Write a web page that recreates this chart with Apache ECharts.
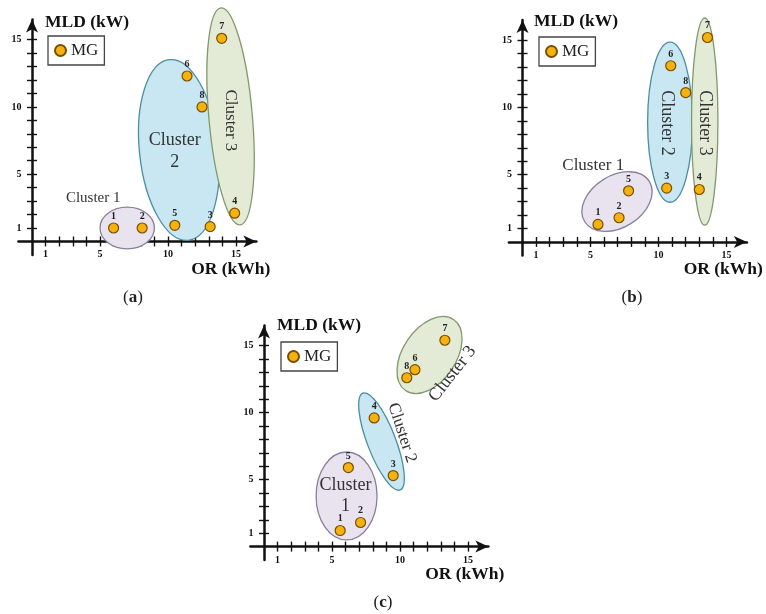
<!DOCTYPE html>
<html><head><meta charset="utf-8">
<script src="https://cdn.jsdelivr.net/npm/echarts@6/dist/echarts.min.js"></script>
<style>html,body{margin:0;padding:0;background:#fff}#c{width:766px;height:614px}</style>
</head><body><div id="c"></div>
<script>
// ---------- data ----------
const ptNames = ['1','2','3','4','5','6','7','8'];
// panel (a)
const aX = [6.0, 8.1, 13.1, 14.9, 10.5, 11.4, 13.95, 12.5];
const aY = [1.0, 1.0, 1.1, 2.1, 1.2, 12.3, 15.1, 10.0];
// panel (b)
const bX = [5.55, 7.1, 10.6, 13.0, 7.8, 10.9, 13.6, 12.0];
const bY = [1.3, 1.8, 4.0, 3.9, 3.8, 13.1, 15.2, 11.1];
// panel (c)
const cX = [5.6, 7.1, 9.5, 8.1, 6.2, 11.1, 13.3, 10.5];
const cY = [1.2, 1.8, 5.3, 9.6, 5.9, 13.2, 15.4, 12.6];

// cluster ellipses: [centerX, centerY, semiAxisX, semiAxisY, rotationDeg]
const ellA = [[7.0, 1.0, 2.0, 1.55, 0], [10.8, 6.8, 2.9, 6.75, 6], [14.6, 9.3, 1.6, 8.1, 5]];
const ellB = [[6.95, 3.0, 2.8, 1.93, 32], [10.85, 8.9, 1.65, 5.95, 0], [13.4, 8.95, 0.97, 7.7, 0]];
const ellC = [[6.07, 3.78, 2.24, 3.28, 0], [8.64, 7.84, 1.04, 3.87, 21], [12.17, 14.3, 1.95, 3.2, -34]];

// cluster labels: text, [x, y, rotationDeg]
const labA = ['Cluster 1', 'Cluster\n2', 'Cluster 3'];
const labPosA = [[4.5, 3.2, 0], [10.5, 6.7, 0], [14.56, 9.0, -90]];
const labB = ['Cluster 1', 'Cluster 2', 'Cluster 3'];
const labPosB = [[5.2, 5.65, 0], [10.6, 8.85, -90], [13.4, 8.85, -90]];
const labC = ['Cluster\n1', 'Cluster 2', 'Cluster 3'];
const labPosC = [[6.0, 3.8, 0], [10.15, 8.5, -72], [13.86, 12.9, 52]];

const tickVals = [1,2,3,4,5,6,7,8,9,10,11,12,13,14,15];
const tickLabels = [1, 5, 10, 15];
const xName = 'OR (kWh)';
const yName = 'MLD (kW)';
const seriesName = 'MG';
const captions = ['a', 'b', 'c'];

// ---------- styles ----------
const SERIF = '"Liberation Serif", "DejaVu Serif", serif';
const clusterStyle = [
  {fill: '#e9e3f0', stroke: '#8a7f9a'},
  {fill: '#c8e7f3', stroke: '#4a8ea2'},
  {fill: '#e3ebd6', stroke: '#80996c'}
];
const labSizeA = [15, 18, 17], labSizeB = [17, 18, 18], labSizeC = [18, 17, 18];

const grids = [
  {left: 18.4, top: 19.5, width: 238, height: 235.4, outerBoundsMode: 'none', containLabel: false},
  {left: 508.9, top: 20, width: 238, height: 235.4, outerBoundsMode: 'none', containLabel: false},
  {left: 250.4, top: 325.5, width: 238, height: 234.5, outerBoundsMode: 'none', containLabel: false}
];
const namePad = [13, 11.5, 13];
const yNameGap = [-2.5, -1, 0];
const xNameGap = [14, 16, 16];

const xAxes = [], yAxes = [];
grids.forEach((g, gi) => {
  const mainIdx = 2 * gi;
  const common = {gridIndex: gi, type: 'value', min: -1, max: 16.5, splitLine: {show: false}};
  const tickStyle = {color: '#111', width: 1.4};
  xAxes.push(Object.assign({}, common, {
    position: 'bottom',
    axisLine: {onZero: true, onZeroAxisIndex: mainIdx, symbol: ['none', 'arrow'], symbolSize: [9, 13], lineStyle: {color: '#111', width: 2.5}},
    axisTick: {customValues: tickVals, length: 5, lineStyle: tickStyle},
    axisLabel: {customValues: tickLabels, margin: -5, fontFamily: SERIF, fontWeight: 'bold', fontSize: 10, color: '#111'},
    name: xName, nameLocation: 'end', nameGap: xNameGap[gi], nameMoveOverlap: false,
    nameTextStyle: {fontFamily: SERIF, fontWeight: 'bold', fontSize: 17.5, color: '#111', align: 'right', verticalAlign: 'top', padding: [19, 0, 0, 0]}
  }));
  xAxes.push(Object.assign({}, common, {
    position: 'bottom',
    axisLine: {show: false, onZero: true, onZeroAxisIndex: mainIdx},
    axisTick: {customValues: tickVals, inside: true, length: 5, lineStyle: tickStyle},
    axisLabel: {show: false}
  }));
  yAxes.push(Object.assign({}, common, {
    position: 'left',
    axisLine: {onZero: true, onZeroAxisIndex: mainIdx, symbol: ['none', 'arrow'], symbolSize: [9, 13], lineStyle: {color: '#111', width: 2.5}},
    axisTick: {customValues: tickVals, length: 5, lineStyle: tickStyle},
    axisLabel: {customValues: tickLabels, margin: -3, fontFamily: SERIF, fontWeight: 'bold', fontSize: 10, color: '#111'},
    name: yName, nameLocation: 'end', nameGap: yNameGap[gi], nameMoveOverlap: false,
    nameTextStyle: {fontFamily: SERIF, fontWeight: 'bold', fontSize: 17.5, color: '#111', align: 'left', verticalAlign: 'middle', padding: [0, 0, 0, namePad[gi]]}
  }));
  yAxes.push(Object.assign({}, common, {
    position: 'left',
    axisLine: {show: false, onZero: true, onZeroAxisIndex: mainIdx},
    axisTick: {customValues: tickVals, inside: true, length: 5, lineStyle: tickStyle},
    axisLabel: {show: false}
  }));
});

function ellipseSeries(gi, ells) {
  return {
    type: 'custom', xAxisIndex: 2 * gi, yAxisIndex: 2 * gi, z: 1, silent: true, clip: false,
    data: ells,
    renderItem: (params, api) => {
      const c = api.coord([api.value(0), api.value(1)]);
      const s = api.size([api.value(2), api.value(3)]);
      const st = clusterStyle[params.dataIndex];
      return {
        type: 'ellipse', x: c[0], y: c[1], rotation: api.value(4) * Math.PI / 180,
        shape: {cx: 0, cy: 0, rx: s[0], ry: s[1]},
        style: {fill: st.fill, stroke: st.stroke, lineWidth: 1.3}
      };
    }
  };
}
function labelSeries(gi, texts, pos, sizes) {
  return {
    type: 'custom', xAxisIndex: 2 * gi, yAxisIndex: 2 * gi, z: 2, silent: true, clip: false,
    data: pos,
    renderItem: (params, api) => {
      const c = api.coord([api.value(0), api.value(1)]);
      const fs = sizes[params.dataIndex];
      return {
        type: 'text', x: c[0], y: c[1], rotation: api.value(2) * Math.PI / 180,
        style: {text: texts[params.dataIndex], fontFamily: SERIF, fontSize: fs, lineHeight: fs * 1.2,
                fill: '#333', align: 'center', verticalAlign: 'middle'}
      };
    }
  };
}
function pointSeries(gi, xs, ys) {
  return {
    type: 'scatter', name: seriesName, xAxisIndex: 2 * gi, yAxisIndex: 2 * gi, z: 3,
    symbol: 'circle', symbolSize: 10,
    itemStyle: {color: '#f5b20e', borderColor: '#7a4e00', borderWidth: 1.2, opacity: 1},
    label: {show: true, position: 'top', distance: 1, formatter: '{b}', fontFamily: SERIF, fontWeight: 'bold', fontSize: 10, color: '#222'},
    data: ptNames.map((n, i) => ({name: n, value: [xs[i], ys[i]]}))
  };
}

const legendPos = [{left: 48, top: 36}, {left: 539, top: 37}, {left: 281, top: 342}];
const legends = legendPos.map(p => ({
  left: p.left, top: p.top, orient: 'horizontal', data: [seriesName],
  icon: 'circle', itemWidth: 11, itemHeight: 11, itemGap: 5,
  padding: [6, 6], borderColor: '#444', borderWidth: 1.3, backgroundColor: '#fff',
  selectedMode: false,
  textStyle: {fontFamily: SERIF, fontSize: 17, color: '#222', padding: [0, 0, 0, 0]}
}));

const capPos = [[133, 298], [632, 298], [383, 603]];
const graphics = captions.map((t, i) => ({
  type: 'text', x: capPos[i][0], y: capPos[i][1], silent: true,
  style: {text: '({b|' + t + '})', font: '17px ' + SERIF, fill: '#222', align: 'center', verticalAlign: 'middle',
          rich: {b: {fontFamily: SERIF, fontSize: 17, fontWeight: 'bold', fill: '#222'}}}
}));

const chart = echarts.init(document.getElementById('c'), null, {renderer: 'canvas'});
chart.setOption({
  animation: false,
  backgroundColor: '#fff',
  grid: grids,
  xAxis: xAxes,
  yAxis: yAxes,
  legend: legends,
  graphic: graphics,
  series: [
    ellipseSeries(0, ellA), labelSeries(0, labA, labPosA, labSizeA), pointSeries(0, aX, aY),
    ellipseSeries(1, ellB), labelSeries(1, labB, labPosB, labSizeB), pointSeries(1, bX, bY),
    ellipseSeries(2, ellC), labelSeries(2, labC, labPosC, labSizeC), pointSeries(2, cX, cY)
  ]
});
</script></body></html>
